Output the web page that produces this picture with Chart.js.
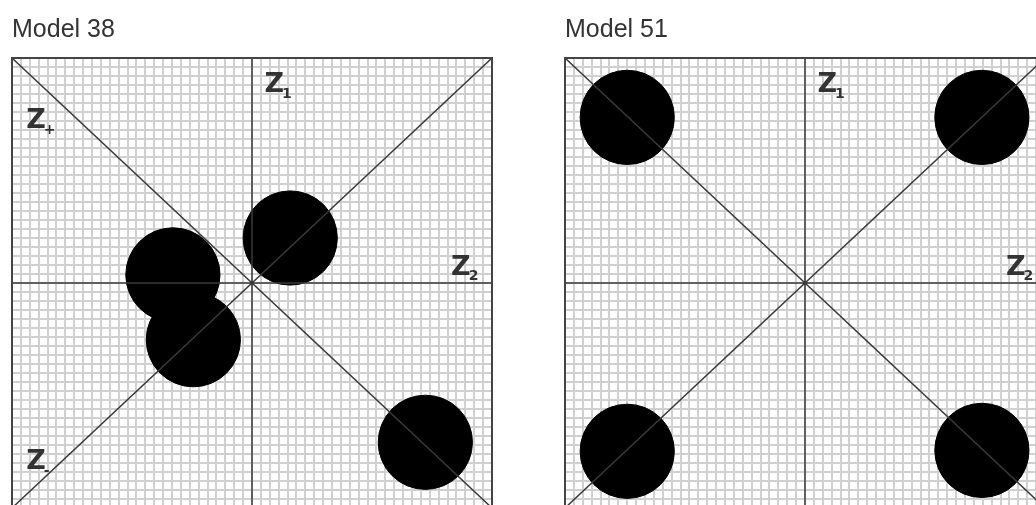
<!DOCTYPE html>
<html>
<head>
<meta charset="utf-8">
<script src="https://cdn.jsdelivr.net/npm/chart.js@4.4.1/dist/chart.umd.min.js"></script>
<style>
    html, body { margin: 0; padding: 0; background: #fff; overflow: hidden; }
    body { width: 1036px; height: 505px; position: relative; }
    .panel { position: absolute; top: 0; width: 500px; height: 515px; }
    #panel38 { left: 0; }
    #panel51 { left: 553px; }
</style>
</head>
<body>
<div class="panel" id="panel38"><canvas id="chart38"></canvas></div>
<div class="panel" id="panel51"><canvas id="chart51"></canvas></div>
<script>
// axis ranges (grid every 1 unit)
const xRange = [-27, 27];
const yRange = [-25, 25];

// cluster centres
const model38X = [4.3, -8.9, -6.6, 19.5];
const model38Y = [5.0, 0.9, -6.3, -17.7];
const model51X = [-20.0, 19.9, -20.0, 19.9];
const model51Y = [18.4, 18.4, -18.7, -18.6];
// cluster radius, in x units
const clusterSpread = 5.3;

// axis names: main letter + subscript
const model38Names = [['Z', '1'], ['Z', '+'], ['Z', '2'], ['Z', '-']];
const model51Names = [['Z', '1'], ['Z', '2']];
// where the names sit (data units)
const model38NamePos = [[1.4, 22], [-25.4, 18], [22.4, 1.7], [-25.4, -19.9]];
const model51NamePos = [[1.4, 22], [22.6, 1.7]];

const guidePlugin = {
    id: 'guides',
    afterDatasetsDraw(chart, args, opts) {
        const ctx = chart.ctx;
        const a = chart.chartArea;
        const sx = chart.scales.x, sy = chart.scales.y;
        const cx = sx.getPixelForValue(0), cy = sy.getPixelForValue(0);
        ctx.save();
        ctx.beginPath();
        ctx.rect(a.left, a.top, a.right - a.left, a.bottom - a.top);
        ctx.clip();
        ctx.strokeStyle = '#3a3a3a';
        ctx.lineWidth = 1.5;
        ctx.beginPath();
        ctx.moveTo(a.left, cy); ctx.lineTo(a.right, cy);
        ctx.moveTo(cx, a.top); ctx.lineTo(cx, a.bottom);
        ctx.moveTo(a.left, a.top); ctx.lineTo(a.right, a.bottom);
        ctx.moveTo(a.left, a.bottom); ctx.lineTo(a.right, a.top);
        ctx.stroke();
        ctx.restore();

        // frame
        ctx.save();
        ctx.strokeStyle = '#444';
        ctx.lineWidth = 2;
        ctx.strokeRect(a.left, a.top, a.right - a.left, a.bottom - a.top);
        ctx.restore();

        // axis names
        ctx.save();
        ctx.fillStyle = '#333';
        ctx.textBaseline = 'middle';
        ctx.textAlign = 'left';
        opts.names.forEach((n, i) => {
            const px = sx.getPixelForValue(opts.pos[i][0]);
            const py = sy.getPixelForValue(opts.pos[i][1]);
            ctx.font = 'bold 27px "DejaVu Sans", sans-serif';
            ctx.fillText(n[0], px, py);
            const w = ctx.measureText(n[0]).width;
            ctx.font = 'bold 14px "DejaVu Sans", sans-serif';
            ctx.fillText(n[1], px + w - 2, py + 9);
        });
        ctx.restore();
    }
};

function clusterRadius(c) {
    const s = c.chart.scales.x;
    const r = Math.abs(s.getPixelForValue(clusterSpread) - s.getPixelForValue(0));
    return isFinite(r) ? r : 0;
}

function makePanel(id, title, xs, ys, names, pos) {
    const points = xs.map((x, i) => ({ x: x, y: ys[i] }));
    new Chart(document.getElementById(id), {
        type: 'scatter',
        data: {
            datasets: [{
                data: points,
                backgroundColor: '#000',
                borderColor: '#000',
                borderWidth: 1,
                pointRadius: clusterRadius,
                pointHoverRadius: clusterRadius,
                clip: false
            }]
        },
        options: {
            responsive: true,
            maintainAspectRatio: false,
            animation: false,
            events: [],
            layout: {
                autoPadding: false,
                padding: { left: 12, right: 8, top: 0, bottom: 7 }
            },
            plugins: {
                legend: { display: false },
                tooltip: { enabled: false },
                title: {
                    display: true,
                    text: title,
                    align: 'start',
                    color: '#333',
                    font: { family: '"Liberation Sans", Arial, sans-serif', size: 25, weight: 'normal' },
                    padding: { top: 15, bottom: 13 }
                },
                guides: { names: names, pos: pos }
            },
            scales: {
                x: {
                    type: 'linear',
                    min: xRange[0], max: xRange[1],
                    ticks: { display: false, stepSize: 1, maxTicksLimit: 200 },
                    grid: { color: '#d0d0d0', lineWidth: 2, drawTicks: false },
                    border: { display: false }
                },
                y: {
                    type: 'linear',
                    min: yRange[0], max: yRange[1],
                    ticks: { display: false, stepSize: 1, maxTicksLimit: 200 },
                    grid: { color: '#d0d0d0', lineWidth: 2, drawTicks: false },
                    border: { display: false }
                }
            }
        },
        plugins: [guidePlugin]
    });
}

makePanel('chart38', 'Model 38', model38X, model38Y, model38Names, model38NamePos);
makePanel('chart51', 'Model 51', model51X, model51Y, model51Names, model51NamePos);
</script>
</body>
</html>
